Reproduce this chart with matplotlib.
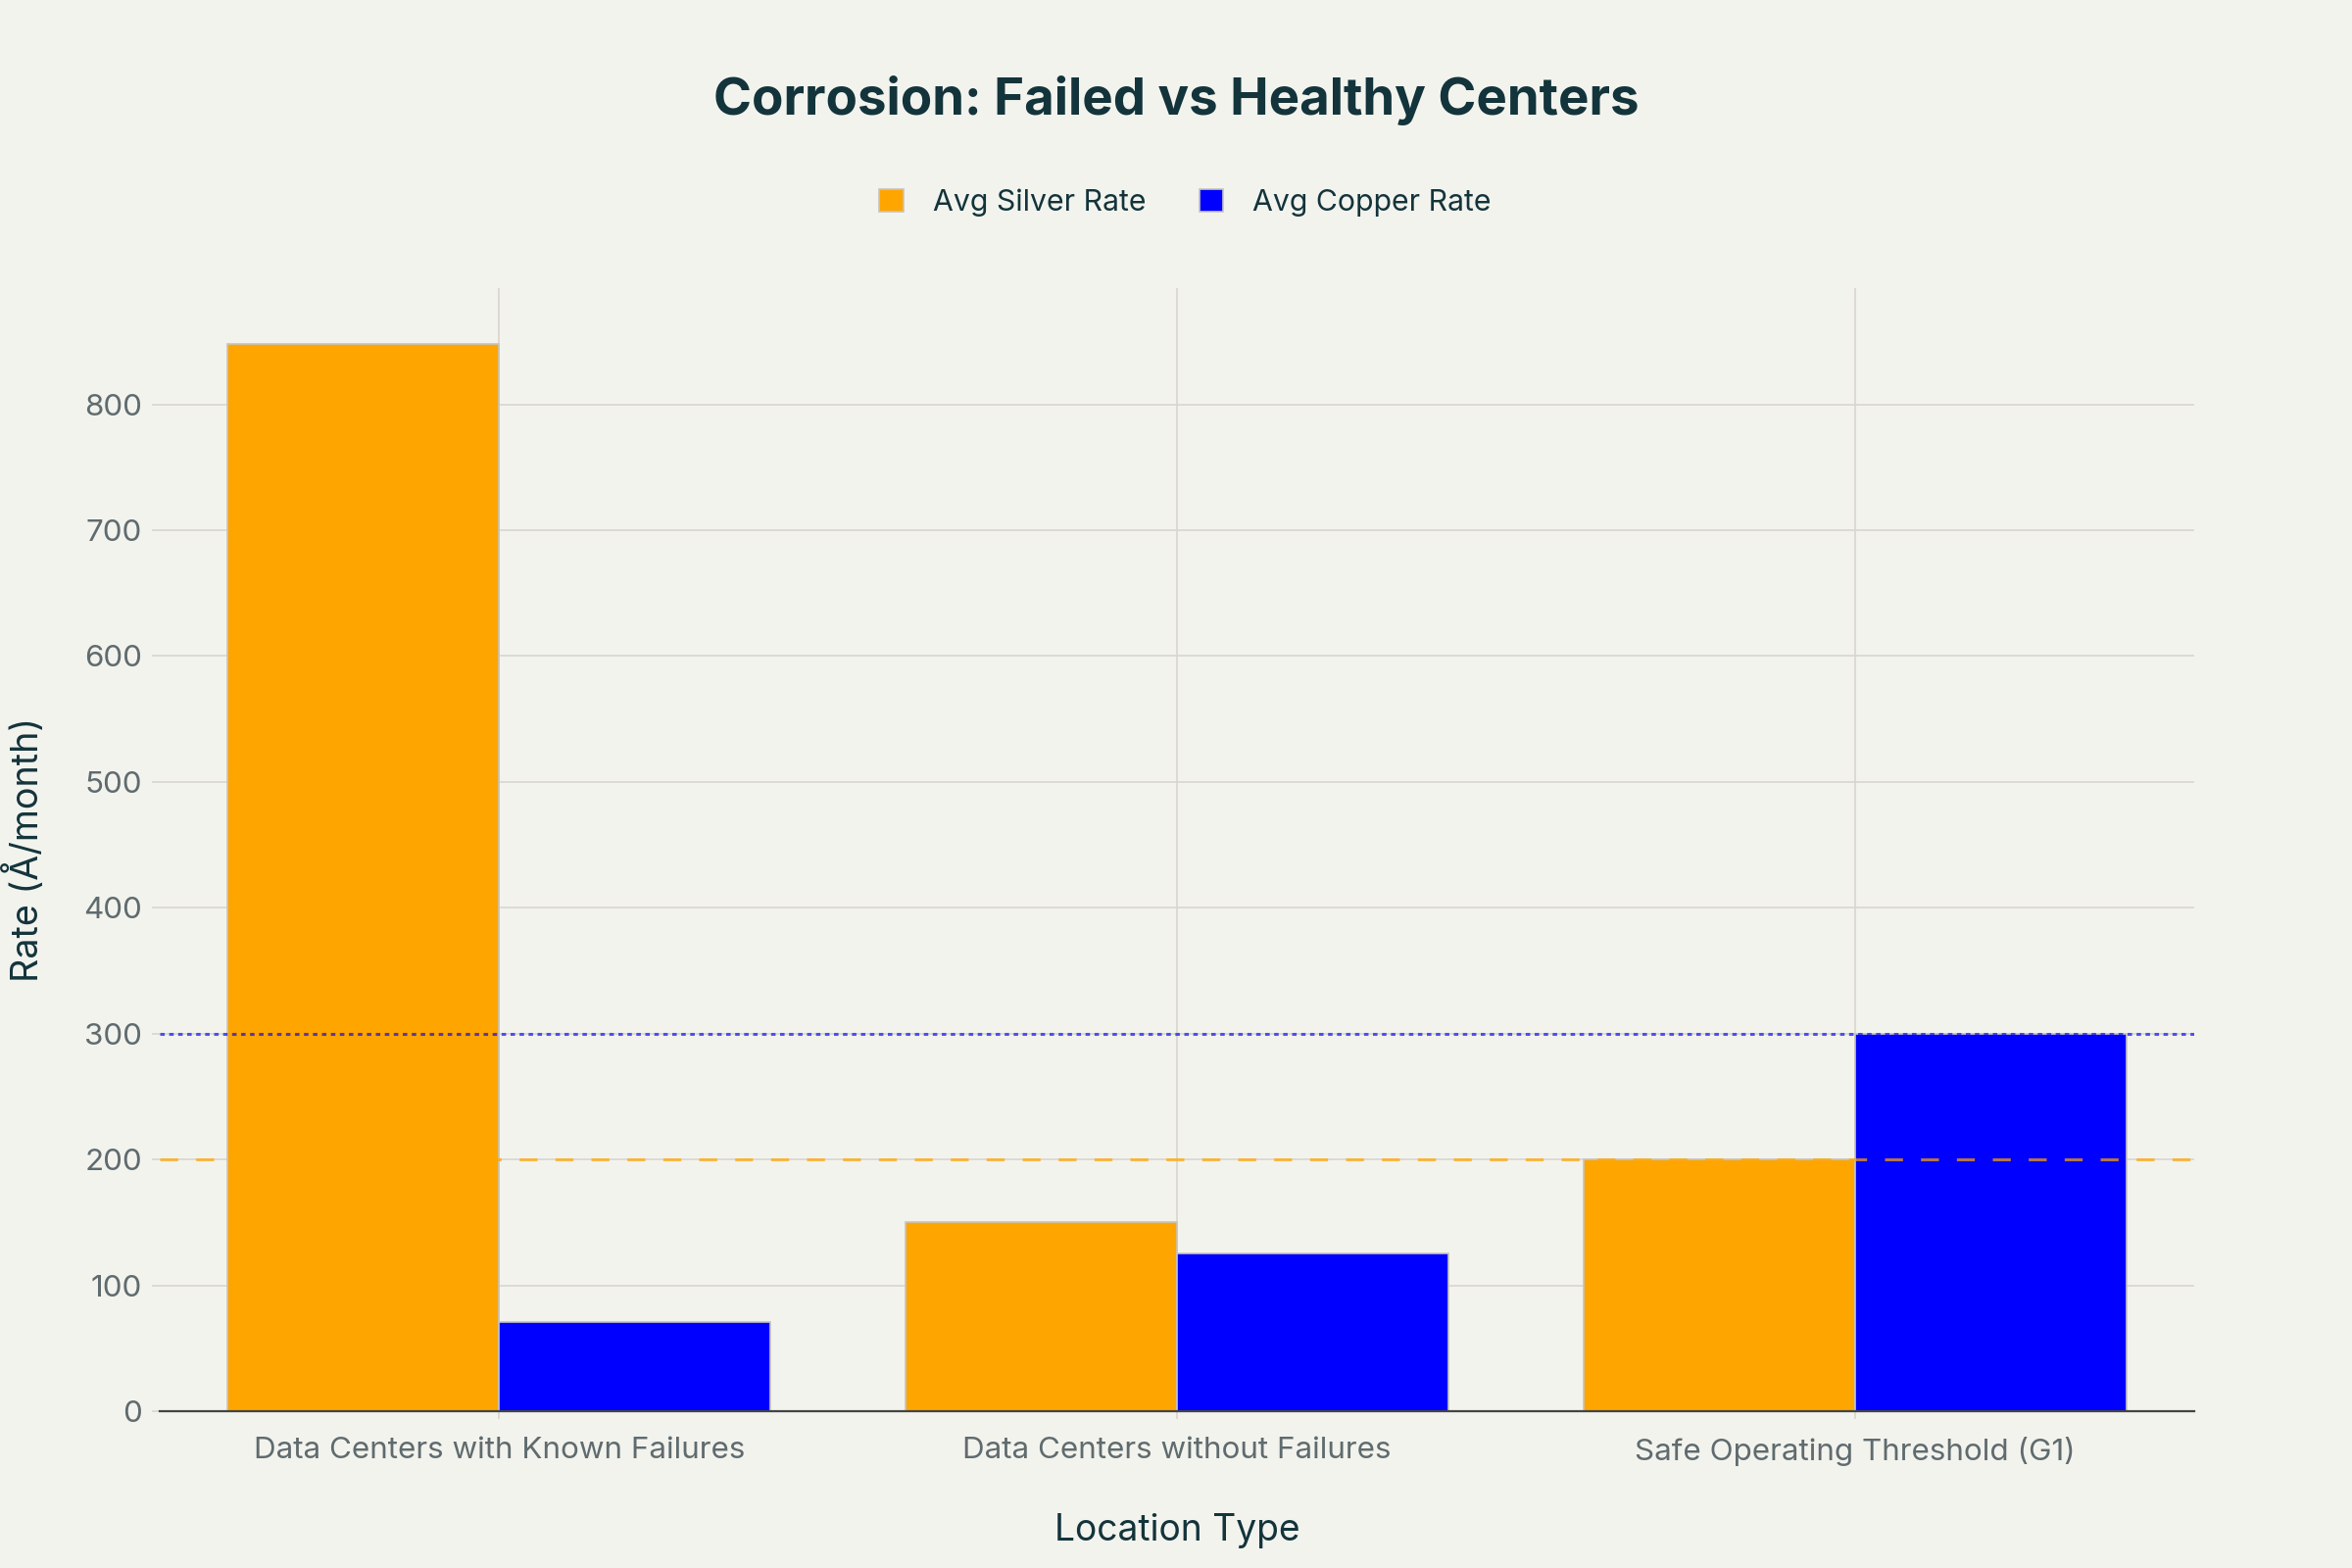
import numpy as np
import matplotlib.pyplot as plt

# --- Data ---
categories = [
    "Data Centers with Known Failures",
    "Data Centers without Failures",
    "Safe Operating Threshold (G1)",
]
silver_rate = [848, 150, 200]
copper_rate = [71, 125, 300]
silver_limit = 200
copper_limit = 300

BG = "#F3F3EE"
TITLE_C = "#13343B"
TICK_C = "#5F6B6E"
GRID_C = "#D9D6CF"

plt.rcParams["font.family"] = ["Inter", "DejaVu Sans"]

fig = plt.figure(figsize=(12, 8), dpi=200, facecolor=BG)
ax = fig.add_axes([0.068, 0.10, 0.865, 0.716], facecolor=BG)

x = np.arange(len(categories))
w = 0.4
ax.bar(x - w / 2, silver_rate, w, color="#FFA500", edgecolor="#C8C4BC",
       linewidth=0.6, label="Avg Silver Rate", zorder=2)
ax.bar(x + w / 2, copper_rate, w, color="#0000FF", edgecolor="#C8C4BC",
       linewidth=0.6, label="Avg Copper Rate", zorder=2)

# threshold lines
ax.axhline(silver_limit, color="#FFA500", alpha=0.7, lw=1.1,
           ls=(0, (6, 6)), zorder=3)
ax.axhline(copper_limit, color="#0000FF", alpha=0.65, lw=1.1,
           ls=(0, (1.5, 1.5)), zorder=3)

ax.set_xlim(-0.5, 2.5)
ax.set_ylim(0, 892)
ax.set_yticks(np.arange(0, 801, 100))
ax.set_xticks(x)
ax.set_xticklabels(categories)
ax.grid(True, color=GRID_C, lw=0.6, zorder=0)
ax.set_axisbelow(True)
for s in ["top", "right", "left"]:
    ax.spines[s].set_visible(False)
ax.spines["bottom"].set_color("#444444")
ax.spines["bottom"].set_linewidth(0.8)
ax.spines["bottom"].set_zorder(4)
ax.tick_params(axis="both", colors=GRID_C, labelcolor=TICK_C,
               labelsize=11.3, length=3, width=0.6)
ax.tick_params(axis="x", pad=6.5)

ax.set_xlabel("Location Type", fontsize=13.4, color=TITLE_C, labelpad=17)
ax.set_ylabel("Rate (Å/month)", fontsize=13.6, color=TITLE_C, labelpad=14)

fig.suptitle("Corrosion: Failed vs Healthy Centers", fontsize=19,
             fontweight="bold", color=TITLE_C, y=0.952)
fig.legend(loc="center", bbox_to_anchor=(0.504, 0.871), ncol=2, frameon=False,
           fontsize=10.9, labelcolor=TITLE_C, handlelength=0.8,
           handleheight=0.8, columnspacing=1.8, handletextpad=1.0)

fig.savefig("out.png", dpi=200, facecolor=BG)
